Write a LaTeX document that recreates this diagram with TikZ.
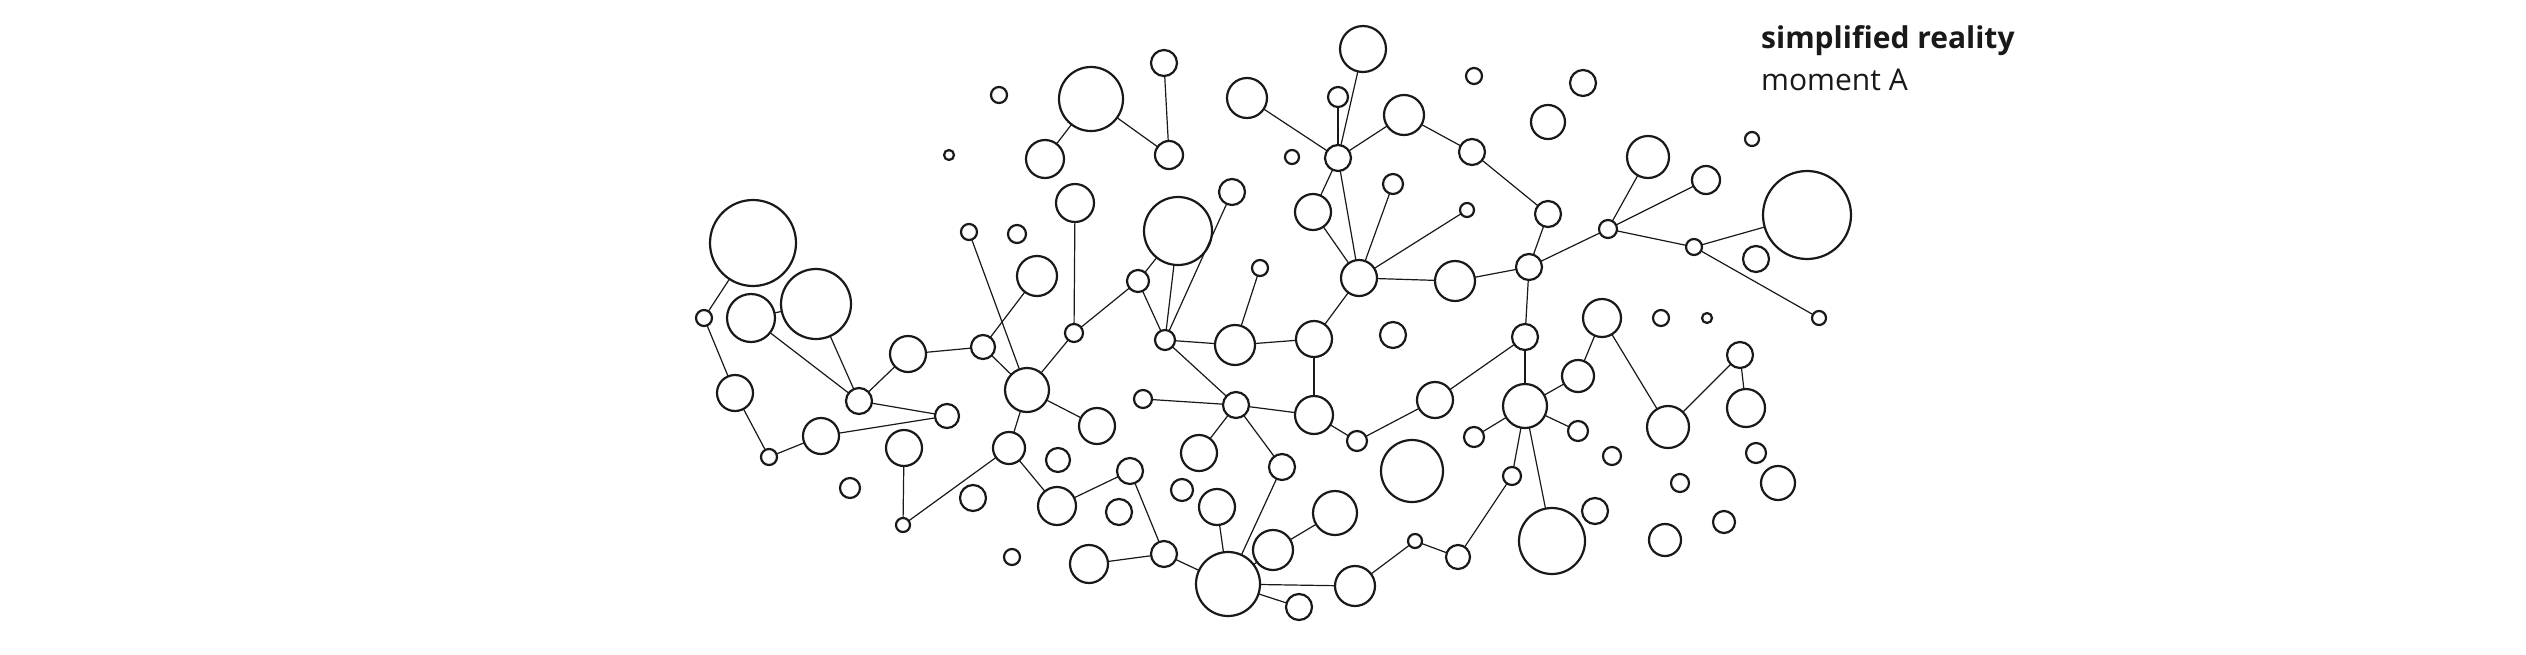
\documentclass[tikz,border=0pt]{standalone}
\usepackage{fontspec}
\setmainfont{Open Sans}
\begin{document}
\begin{tikzpicture}[x=1pt,y=-1pt,
  nd/.style={circle,draw=black!90,line width=2.2pt,inner sep=0pt,outer sep=0pt},
  edge/.style={draw=black!90,line width=1.2pt}]
\fill[white] (0,0) rectangle (2526,654);
\useasboundingbox (0,0) rectangle (2526,654);
\foreach \n/\x/\y/\r in {
 A1/753/243/43, A2/704/318/8, A3/751/318/24, A4/816/304/35, A5/735/393/18,
 A6/769/457/8, A7/821/436/18, A8/859/401/13, A9/908/354/18, A10/947/416/12,
 A11/983/347/12, A12/904/448/18, A13/850/488/10, A14/903/525/7, A15/949/155/5,
 A16/999/95/8, A17/969/232/8, A18/1017/234/9, A19/1037/276/20, A20/1045/159/19,
 A21/1091/99/32, A22/1164/63/13, A23/1169/155/14, A24/1247/98/20, A25/1075/203/19,
 A26/1232/192/13, A27/1178/231/34, A28/1138/281/11, A29/1260/268/8, A30/1074/333/9,
 A31/1165/340/10, A32/1235/345/20, A33/1027/390/22, A34/1009/448/16, A35/1097/426/18,
 A36/1143/399/9, A37/1236/405/13, A38/1058/460/12, A39/973/498/13, A40/1057/506/19,
 A41/1130/471/13, A42/1119/512/13, A43/1012/557/8, A44/1089/564/19, A45/1164/554/13,
 A46/1199/453/18, A47/1182/490/11, A48/1217/507/18, A49/1228/584/32, A50/1273/550/20,
 A51/1282/467/13,
 B1/1363/49/23, B2/1338/97/10, B3/1292/157/7, B4/1338/158/13, B5/1404/115/20,
 B6/1472/152/13, B7/1474/76/8, B8/1583/83/13, B9/1548/122/17, B10/1648/157/21,
 B11/1393/184/10, B12/1313/212/18, B13/1467/210/7, B14/1548/214/13, B15/1608/229/9,
 B16/1359/278/18, B17/1455/281/20, B18/1529/267/13, B19/1602/318/19, B20/1661/318/8,
 B21/1314/339/18, B22/1393/335/13, B23/1525/337/13, B24/1314/415/19, B25/1357/441/10,
 B26/1435/400/18, B27/1412/471/31, B28/1474/437/10, B29/1525/406/22, B30/1578/376/16,
 B31/1578/431/10, B32/1612/456/9, B33/1512/476/9, B34/1335/513/22, B35/1415/541/7,
 B36/1458/557/12, B37/1552/541/33, B38/1595/511/13, B39/1355/586/20, B40/1299/607/13,
 B41/1668/427/21, B42/1665/540/16,
 C1/1752/139/7, C2/1706/180/14, C3/1807/215/44, C4/1694/247/8, C5/1756/259/13,
 C6/1707/318/5, C7/1819/318/7, C8/1740/355/13, C9/1746/408/19, C10/1756/453/10,
 C11/1778/483/17, C12/1680/483/9, C13/1724/522/11}
 \node[nd,minimum size={2*\r*1pt}] (\n) at (\x,\y) {};
\foreach \a/\b in {
 A1/A2, A2/A5, A5/A6, A6/A7, A7/A10, A3/A8, A4/A8, A8/A9, A8/A10, A9/A11,
 A11/A19, A11/A33, A17/A33, A33/A34, A34/A14, A12/A14, A34/A40, A3/A4,
 A21/A20, A21/A23, A22/A23, A24/B4, A25/A30, A30/A28, A28/A27, A28/A31, A27/A31,
 A26/A31, A29/A32, A33/A35, A33/A30, A40/A41, A41/A45, A45/A44, A45/A49,
 A31/A37, A31/A32, A36/A37, A37/A46, A37/A51, A51/A49, A48/A49, A49/A50,
 A49/B39, A49/B40, A32/B21, A37/B24,
 B2/B4, B1/B4, B4/B5, B4/B12, B4/B16, B5/B6, B6/B14, B14/B18, B18/B15, B18/B17,
 B18/B23, B15/B10, B15/C2, B15/C4, C4/C3, C4/C7, B12/B16, B11/B16, B13/B16,
 B16/B17, B16/B21, B21/B24, B24/B25, B25/B26, B26/B23, B23/B29, B29/B28,
 B29/B30, B29/B31, B29/B33, B29/B37, B30/B19, B19/B41, B33/B36, B36/B35,
 B35/B39, B34/A50, C8/C9, C8/B41}
 \draw[edge] (\a) -- (\b);
\node[anchor=base west,inner sep=0pt,text=black!90,font=\fontsize{30}{36}\selectfont\bfseries] (title) at (1761,48) {simplified reality};
\node[anchor=base west,inner sep=0pt,text=black!90,font=\fontsize{30}{36}\selectfont] (sub) at (1761,90) {moment A};
\end{tikzpicture}
\end{document}
